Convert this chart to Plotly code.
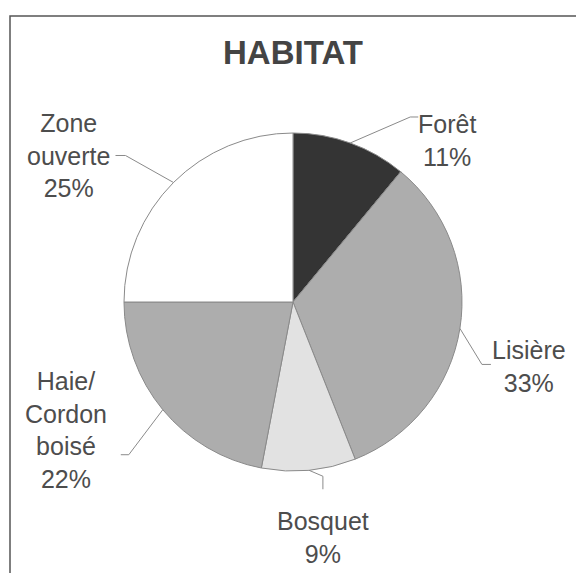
import math

import plotly.graph_objects as go

W, H = 584, 573

labels = ["Forêt", "Lisière", "Bosquet", "Haie/Cordon boisé", "Zone ouverte"]
values = [11, 33, 9, 22, 25]
label_text = ["Forêt<br>11%", "Lisière<br>33%", "Bosquet<br>9%",
              "Haie/<br>Cordon<br>boisé<br>22%", "Zone<br>ouverte<br>25%"]
colors = ["#343434", "#adadad", "#e2e2e2", "#adadad", "#ffffff"]

# pie geometry in pixels (page body adds an 8px offset)
CX, CY, R = 285, 294, 169

# label placement relative to the slice edge point (pixels): text centre, leader elbow, leader end
label_offsets = [(97, -2), (69, 38), (14, 67), (-97, 20), (-105, -27)]
leader_elbows = [(60, -26), (22, 36), (14, 6), (-34, 45), (-48, -27)]
leader_ends = [(68, -26), (31, 36), (14, 19), (-42, 45), (-58, -27)]

TEXT_FONT = dict(family="Liberation Sans, Arial", size=25, color="#4d4d4d")


def to_paper(px, py):
    return px / W, 1 - py / H


fig = go.Figure()
fig.add_trace(go.Pie(
    labels=labels,
    values=values,
    sort=False,
    direction="clockwise",
    rotation=0,
    textinfo="none",
    hoverinfo="label+percent",
    marker=dict(colors=colors, line=dict(color="#8a8a8a", width=1)),
    domain=dict(x=[(CX - R) / W, (CX + R) / W], y=[(H - CY - R) / H, (H - CY + R) / H]),
    showlegend=False,
))

total = sum(values)
cum = 0
shapes = []
annotations = []
for i, v in enumerate(values):
    mid = (cum + v / 2) / total * 2 * math.pi
    cum += v
    ex = CX + R * math.sin(mid)
    ey = CY - R * math.cos(mid)
    p0 = to_paper(ex, ey)
    p1 = to_paper(ex + leader_elbows[i][0], ey + leader_elbows[i][1])
    p2 = to_paper(ex + leader_ends[i][0], ey + leader_ends[i][1])
    shapes.append(dict(
        type="path", xref="paper", yref="paper",
        path=f"M {p0[0]} {p0[1]} L {p1[0]} {p1[1]} L {p2[0]} {p2[1]}",
        line=dict(color="#8a8a8a", width=1),
    ))
    tx, ty = to_paper(ex + label_offsets[i][0], ey + label_offsets[i][1])
    annotations.append(dict(
        x=tx, y=ty, xref="paper", yref="paper", text=label_text[i],
        showarrow=False, xanchor="center", yanchor="middle", align="center",
        font=TEXT_FONT,
    ))

# outer frame (right and bottom edges fall outside the window)
shapes.append(dict(
    type="rect", xref="paper", yref="paper",
    x0=2 / W, x1=1.05, y0=-0.05, y1=1 - 8 / H,
    line=dict(color="#555555", width=1.5),
))

fig.update_layout(
    width=W, height=H,
    margin=dict(l=0, r=0, t=0, b=0),
    paper_bgcolor="white",
    title=dict(
        text="<b>HABITAT</b>", x=(293 - 8) / W, xanchor="center", y=1 - 44 / H, yanchor="middle",
        font=dict(family="Liberation Sans, Arial", size=33, color="#444444"),
    ),
    shapes=shapes,
    annotations=annotations,
)

fig.write_html("out.html")
